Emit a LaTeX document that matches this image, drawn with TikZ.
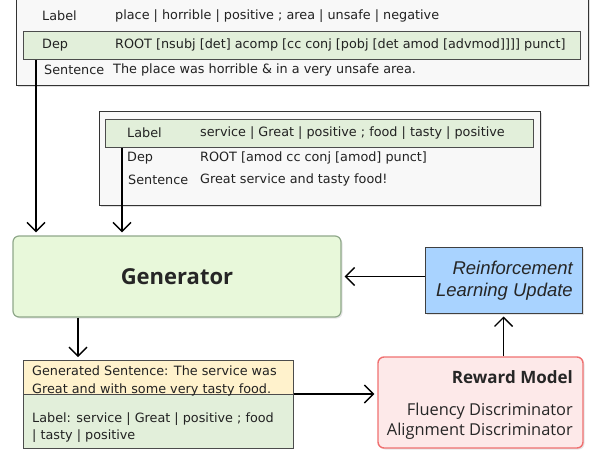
\documentclass[tikz,border=0pt]{standalone}
\usepackage{fontspec}
\setmainfont{DejaVu Sans}
\newfontfamily\segoe{Open Sans}
\newfontfamily\arialf{Liberation Sans}
\usetikzlibrary{arrows.meta,shadows,calc}
\definecolor{rowgreen}{HTML}{E2EFDA}
\definecolor{panelgray}{HTML}{F8F8F8}
\definecolor{gengreen}{HTML}{E8F8DA}
\definecolor{genborder}{HTML}{8FA88A}
\definecolor{rlblue}{HTML}{A9D3FF}
\definecolor{rmfill}{HTML}{FDE9E9}
\definecolor{rmborder}{HTML}{F07070}
\definecolor{genyellow}{HTML}{FFF2CC}
\definecolor{txt}{HTML}{222222}
\tikzset{
  x=1pt, y=-1pt,
  box/.style={draw=#1, line width=1pt, anchor=north west, inner sep=0pt},
  panel/.style={box=black!80, fill=panelgray, drop shadow={shadow xshift=1.5pt, shadow yshift=-1.5pt, fill=black!25}},
  row/.style={box=black!70, fill=rowgreen},
  ctext/.style={font=\fontsize{12.8}{15}\selectfont, text=txt, anchor=west, inner sep=0pt},
  arr/.style={line width=1.4pt, -{Straight Barb[length=9pt,width=18pt,line width=1.4pt]}, shorten >=3pt},
}
\begin{document}
\begin{tikzpicture}
\useasboundingbox (0,0) rectangle (591,453);
% top panel
\node[panel, minimum width=572pt, minimum height=92pt] (p1) at (16,-7) {};
\node[row, minimum width=557pt, minimum height=28pt] (dep1) at (23,31) {};
\node[ctext] (l1a) at (42,16) {Label};
\node[ctext] (l1b) at (115,16) {place | horrible | positive ; area | unsafe | negative};
\node[ctext] (d1a) at (42,45) {Dep};
\node[ctext] (d1b) at (115,45) {ROOT [nsubj [det] acomp [cc conj [pobj [det amod [advmod]]]] punct]};
\node[ctext] (s1a) at (44,70) {Sentence};
\node[ctext] (s1b) at (113,70) {The place was horrible \& in a very unsafe area.};
% second panel
\node[panel, minimum width=441pt, minimum height=94pt] (p2) at (99,111) {};
\node[row, minimum width=428pt, minimum height=28pt] (lab2) at (105,119) {};
\node[ctext] (l2a) at (127,133) {Label};
\node[ctext] (l2b) at (200,133) {service | Great | positive ; food | tasty | positive};
\node[ctext] (d2a) at (127,158) {Dep};
\node[ctext] (d2b) at (200,158) {ROOT [amod cc conj [amod] punct]};
\node[ctext] (s2a) at (128,180) {Sentence};
\node[ctext] (s2b) at (200,180) {Great service and tasty food!};
% generator
\node[draw=genborder, fill=gengreen, line width=1.2pt, rounded corners=6pt,
      minimum width=328pt, minimum height=81pt, drop shadow={shadow xshift=1.5pt, shadow yshift=-1.5pt, fill=black!20},
      font=\segoe\bfseries\fontsize{22}{26}\selectfont, text=black!85] (gen) at (177,276.5) {Generator};
% RL update
\node[draw=black!75, fill=rlblue, line width=1pt, minimum width=157pt, minimum height=66pt,
      drop shadow={shadow xshift=1.5pt, shadow yshift=-1.5pt, fill=black!20}] (rl) at (503.5,280) {};
\node[anchor=east, align=right, inner sep=0pt, font=\arialf\itshape\fontsize{18.5}{21.5}\selectfont, text=black!85] (rlt) at (573,280.5) {Reinforcement\\Learning Update};
% reward model
\node[draw=rmborder, fill=rmfill, line width=1.4pt, rounded corners=6pt,
      minimum width=205pt, minimum height=91pt, drop shadow={shadow xshift=1.5pt, shadow yshift=-1.5pt, fill=black!20}] (rm) at (480.5,402.5) {};
\node[anchor=east, inner sep=0pt, font=\segoe\bfseries\fontsize{17}{20}\selectfont, text=black!85] (rmt) at (573,377) {Reward Model};
\node[anchor=east, align=right, inner sep=0pt, font=\segoe\fontsize{16.4}{20}\selectfont, text=black!85] (rmd) at (573,421) {Fluency Discriminator\\Alignment Discriminator};
% generated output
\node[box=black!70, fill=genyellow, minimum width=270pt, minimum height=34pt] (gs) at (23,360) {};
\node[box=black!70, fill=rowgreen, minimum width=270pt, minimum height=54pt] (gl) at (23,394) {};
\node[anchor=north west, align=left, inner sep=0pt, font=\fontsize{12.8}{18}\selectfont, text=txt] (gst) at (32,366) {Generated Sentence: The service was\\Great and with some very tasty food.};
\node[anchor=north west, align=left, inner sep=0pt, font=\fontsize{12.8}{17}\selectfont, text=txt] (glt) at (32,413) {Label: service | Great | positive ; food\\| tasty | positive};
% connectors
\draw[arr] ([xshift=13pt]dep1.south west) -- ([xshift=13pt]dep1.south west |- gen.north);
\draw[arr] ([xshift=17pt]lab2.south west) -- ([xshift=17pt]lab2.south west |- gen.north);
\draw[arr] (rl.west |- gen.east) -- (gen.east);
\draw[arr] (rm.north -| rl.south) -- (rl.south);
\draw[arr] ([xshift=55pt]gs.north west |- gen.south) -- ([xshift=55pt]gs.north west);
\draw[arr] (gl.north east) -- (gl.north east -| rm.west);
\end{tikzpicture}
\end{document}
